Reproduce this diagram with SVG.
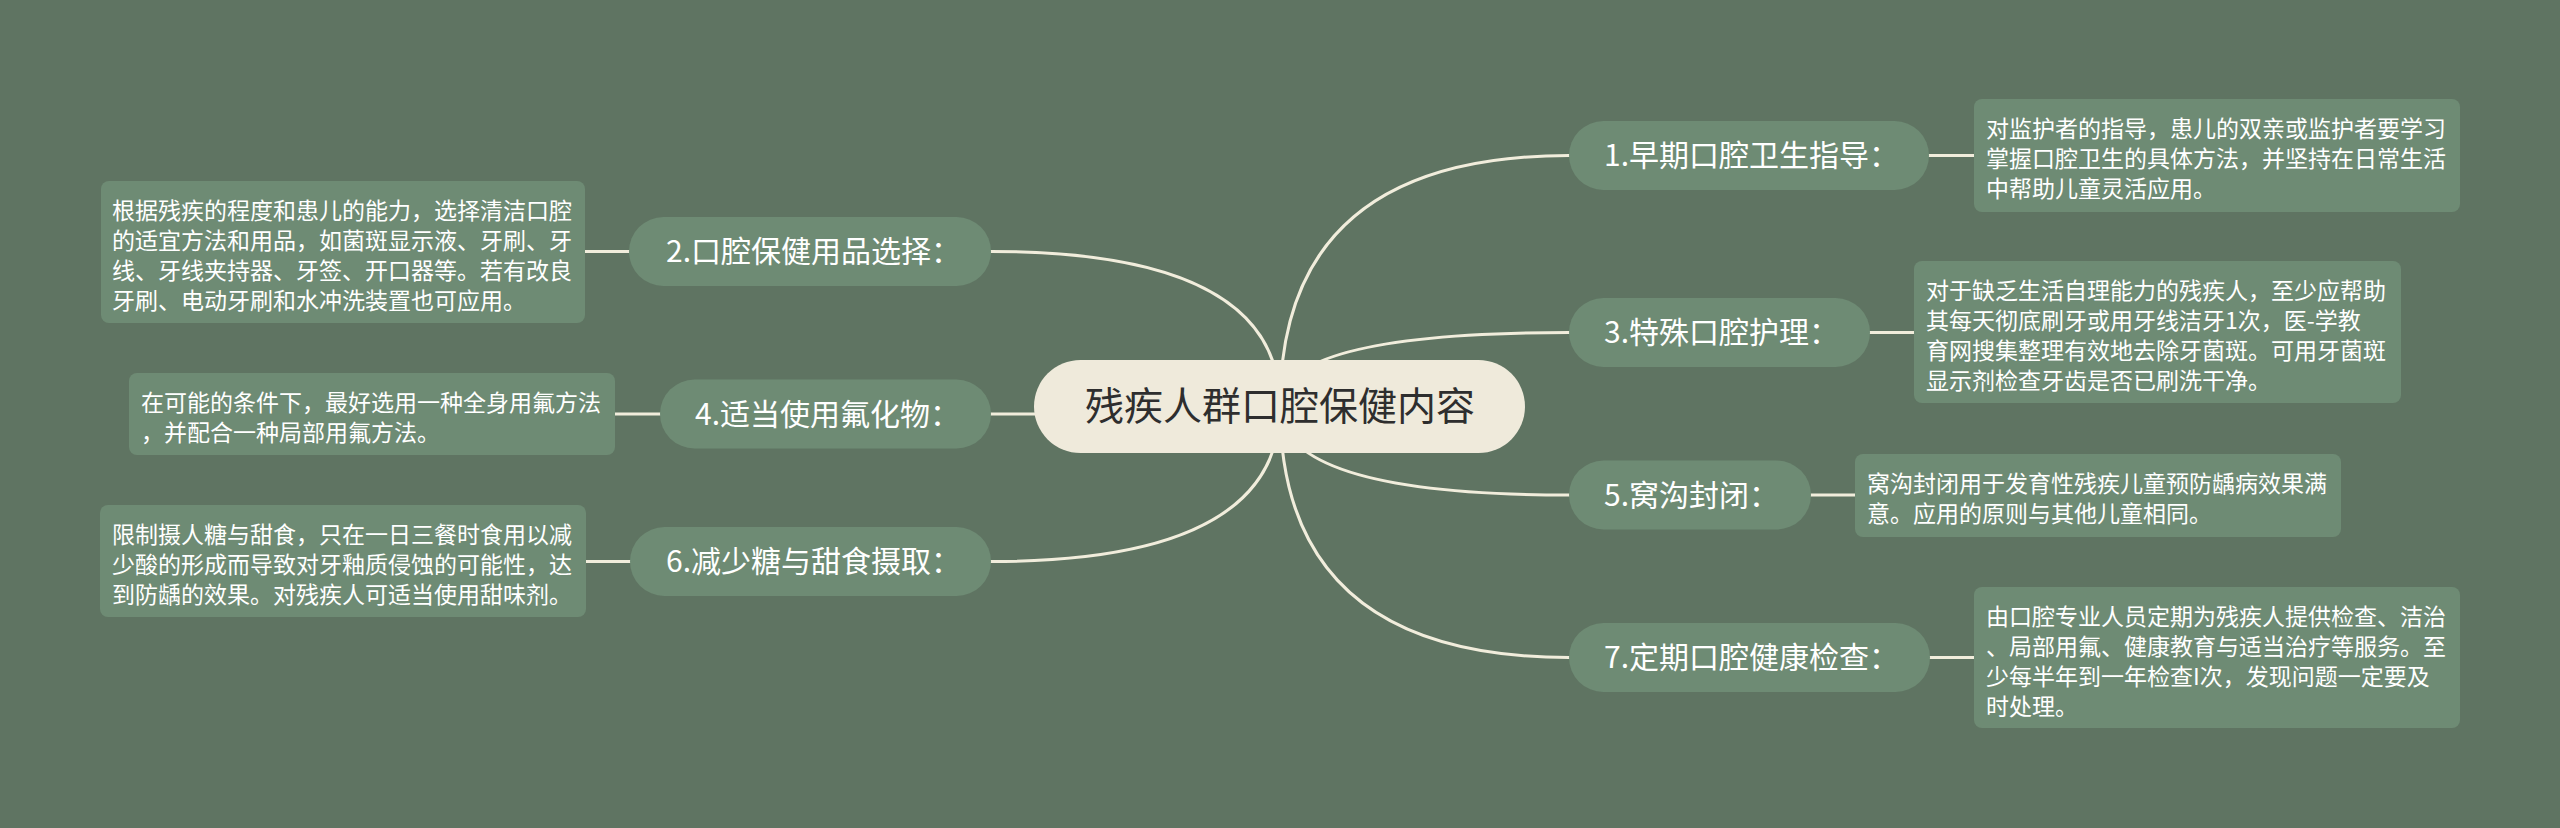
<svg xmlns="http://www.w3.org/2000/svg" width="2560" height="828" viewBox="0 0 2560 828">
<style>
.bg{fill:#5f7462}
.link{fill:none;stroke:#f1eddc;stroke-width:3;stroke-linecap:round}
.root{fill:#efeadb}
.rootText{font-family:"Noto Sans CJK SC","Noto Sans",sans-serif;font-size:39px;fill:#2e2e2e}
.topic{fill:#6e8b74}
.topicText{font-family:"Noto Sans CJK SC","Noto Sans",sans-serif;font-size:30px;fill:#ffffff}
.leaf{fill:#6e8b74}
.leafText{font-family:"Noto Sans CJK SC","Noto Sans",sans-serif;font-size:23px;fill:#ffffff}
</style>
<rect class="bg" x="0" y="0" width="2560" height="828"/>
<g id="connectors">
<path class="link" d="M1280 406 Q1280 155.5 1569 155.5"/>
<path class="link" d="M1280 406 Q1280 332.5 1569 332.5"/>
<path class="link" d="M1280 406 Q1280 495 1569 495"/>
<path class="link" d="M1280 406 Q1280 657.5 1569 657.5"/>
<path class="link" d="M1280 406 Q1280 251.5 991 251.5"/>
<path class="link" d="M1280 406 Q1280 414 991 414"/>
<path class="link" d="M1280 406 Q1280 561.5 991 561.5"/>
<path class="link" d="M1929 155.5 L1974 155.5"/>
<path class="link" d="M1870 332.5 L1914 332.5"/>
<path class="link" d="M1811 495 L1855 495"/>
<path class="link" d="M1930 657.5 L1974 657.5"/>
<path class="link" d="M629 251.5 L585 251.5"/>
<path class="link" d="M660 414 L615 414"/>
<path class="link" d="M630 561.5 L586 561.5"/>
</g>
<g id="root">
<rect class="root" x="1034" y="360" width="491" height="93" rx="46.5"/>
<text class="rootText" x="1280" y="420" text-anchor="middle">残疾人群口腔保健内容</text>
</g>
<g id="n1">
<rect class="topic" x="1569" y="121" width="360" height="69" rx="34.5"/>
<text class="topicText" x="1604" y="166">1.早期口腔卫生指导：</text>
</g>
<g id="n3">
<rect class="topic" x="1569" y="298" width="301" height="69" rx="34.5"/>
<text class="topicText" x="1604" y="343">3.特殊口腔护理：</text>
</g>
<g id="n5">
<rect class="topic" x="1569" y="460.5" width="242" height="69" rx="34.5"/>
<text class="topicText" x="1604" y="505.5">5.窝沟封闭：</text>
</g>
<g id="n7">
<rect class="topic" x="1569" y="623" width="361" height="69" rx="34.5"/>
<text class="topicText" x="1604" y="668">7.定期口腔健康检查：</text>
</g>
<g id="n2">
<rect class="topic" x="629" y="217" width="362" height="69" rx="34.5"/>
<text class="topicText" x="666" y="262">2.口腔保健用品选择：</text>
</g>
<g id="n4">
<rect class="topic" x="660" y="379.5" width="331" height="69" rx="34.5"/>
<text class="topicText" x="695" y="424.5">4.适当使用氟化物：</text>
</g>
<g id="n6">
<rect class="topic" x="630" y="527" width="361" height="69" rx="34.5"/>
<text class="topicText" x="666" y="572">6.减少糖与甜食摄取：</text>
</g>
<g id="l1">
<rect class="leaf" x="1974" y="99" width="486" height="113" rx="8"/>
<text class="leafText"><tspan x="1986" y="137">对监护者的指导，患儿的双亲或监护者要学习</tspan><tspan x="1986" y="167">掌握口腔卫生的具体方法，并坚持在日常生活</tspan><tspan x="1986" y="197">中帮助儿童灵活应用。</tspan></text>
</g>
<g id="l3">
<rect class="leaf" x="1914" y="261" width="487" height="142" rx="8"/>
<text class="leafText"><tspan x="1926" y="299">对于缺乏生活自理能力的残疾人，至少应帮助</tspan><tspan x="1926" y="329">其每天彻底刷牙或用牙线洁牙1次，医-学教</tspan><tspan x="1926" y="359">育网搜集整理有效地去除牙菌斑。可用牙菌斑</tspan><tspan x="1926" y="389">显示剂检查牙齿是否已刷洗干净。</tspan></text>
</g>
<g id="l5">
<rect class="leaf" x="1855" y="454" width="486" height="83" rx="8"/>
<text class="leafText"><tspan x="1867" y="492">窝沟封闭用于发育性残疾儿童预防龋病效果满</tspan><tspan x="1867" y="522">意。应用的原则与其他儿童相同。</tspan></text>
</g>
<g id="l7">
<rect class="leaf" x="1974" y="587" width="486" height="141" rx="8"/>
<text class="leafText"><tspan x="1986" y="625">由口腔专业人员定期为残疾人提供检查、洁治</tspan><tspan x="1986" y="655">、局部用氟、健康教育与适当治疗等服务。至</tspan><tspan x="1986" y="685">少每半年到一年检查I次，发现问题一定要及</tspan><tspan x="1986" y="715">时处理。</tspan></text>
</g>
<g id="l2">
<rect class="leaf" x="101" y="181" width="484" height="142" rx="8"/>
<text class="leafText"><tspan x="112" y="219">根据残疾的程度和患儿的能力，选择清洁口腔</tspan><tspan x="112" y="249">的适宜方法和用品，如菌斑显示液、牙刷、牙</tspan><tspan x="112" y="279">线、牙线夹持器、牙签、开口器等。若有改良</tspan><tspan x="112" y="309">牙刷、电动牙刷和水冲洗装置也可应用。</tspan></text>
</g>
<g id="l4">
<rect class="leaf" x="129" y="373" width="486" height="82" rx="8"/>
<text class="leafText"><tspan x="141" y="411">在可能的条件下，最好选用一种全身用氟方法</tspan><tspan x="141" y="441">，并配合一种局部用氟方法。</tspan></text>
</g>
<g id="l6">
<rect class="leaf" x="100" y="505" width="486" height="112" rx="8"/>
<text class="leafText"><tspan x="112" y="543">限制摄人糖与甜食，只在一日三餐时食用以减</tspan><tspan x="112" y="573">少酸的形成而导致对牙釉质侵蚀的可能性，达</tspan><tspan x="112" y="603">到防龋的效果。对残疾人可适当使用甜味剂。</tspan></text>
</g>
</svg>
